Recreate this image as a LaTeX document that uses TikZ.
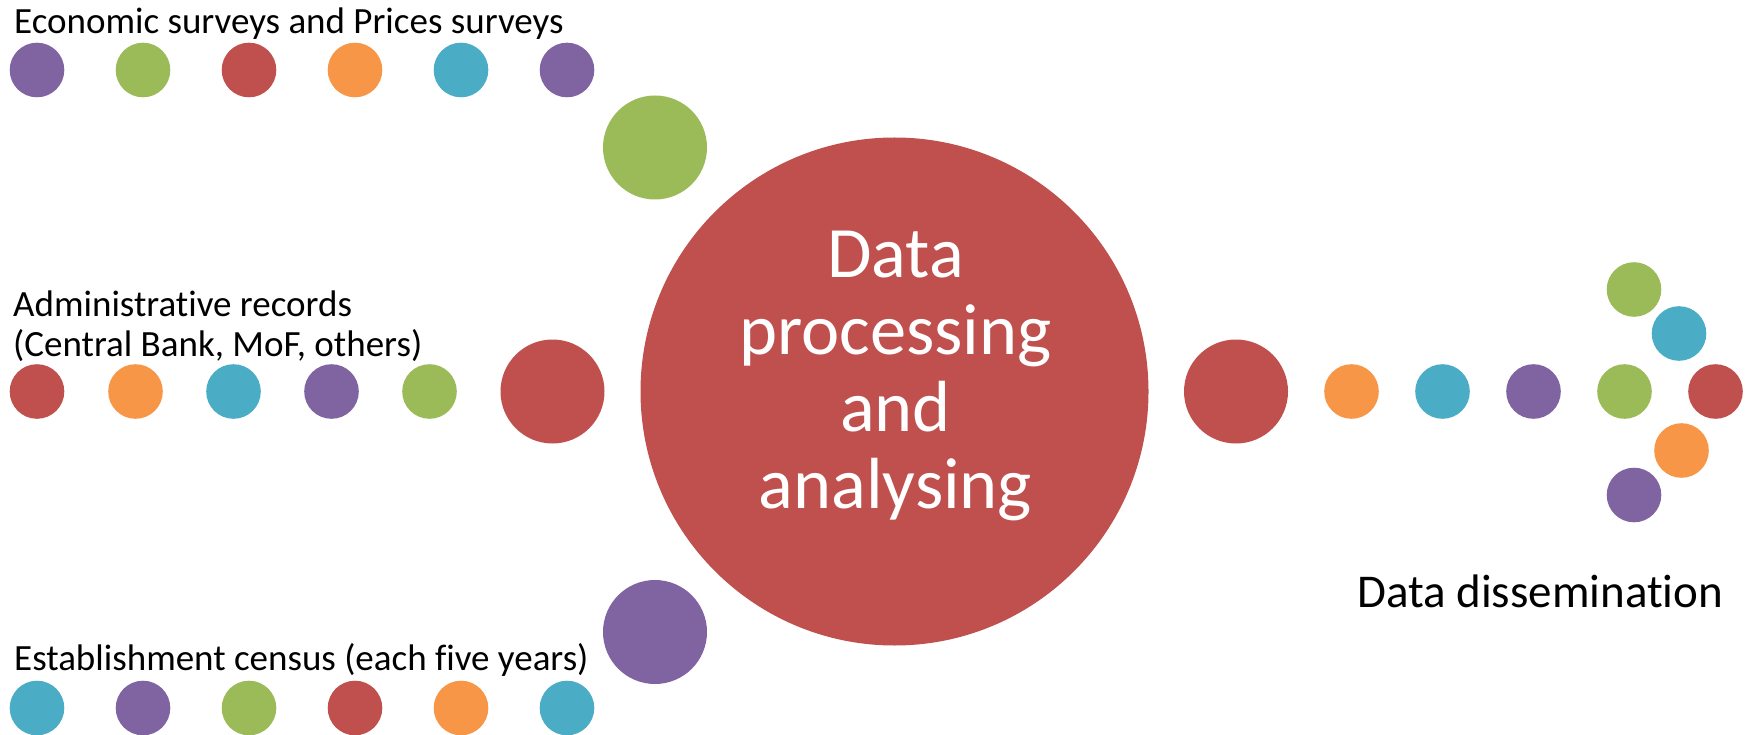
\documentclass[tikz,border=0pt]{standalone}
\usepackage{fontspec}
\setmainfont{Carlito}[Ligatures=NoCommon]
\definecolor{cpurple}{HTML}{8064A2}
\definecolor{cgreen}{HTML}{9BBB59}
\definecolor{cred}{HTML}{C0504D}
\definecolor{corange}{HTML}{F79646}
\definecolor{cblue}{HTML}{4BACC6}
\tikzset{
  dot/.style={circle,inner sep=0pt,minimum size=54.6pt,fill=#1},
  bigdot/.style={circle,inner sep=0pt,minimum size=104pt,fill=#1},
  hub/.style={circle,inner sep=0pt,minimum size=508pt,fill=cred},
  lbl/.style={inner sep=0pt,font=\fontsize{37}{40}\selectfont,text=black},
}
\begin{document}
\begin{tikzpicture}[x=1pt,y=-1pt]
\useasboundingbox (0,0) rectangle (1753,735);
% hub
\node[hub] (hub) at (894.5,391.5) {};
\node[inner sep=0pt,anchor=north,align=center,text=white,
      font=\fontsize{72.4}{77}\selectfont] (hubtext) at (895.5,230.5)
      {Data\\processing\\and\\analysing};
% top row
\node[lbl,anchor=base west] (t1) at (14,34) {Economic surveys and Prices surveys};
\node[dot=cpurple] (a1) at (37,70) {};
\node[dot=cgreen]  (a2) at (143,70) {};
\node[dot=cred]    (a3) at (249,70) {};
\node[dot=corange] (a4) at (355,70) {};
\node[dot=cblue]   (a5) at (461,70) {};
\node[dot=cpurple] (a6) at (567,70) {};
\node[bigdot=cgreen] (A) at (655,147.5) {};
% middle row
\node[lbl,anchor=base west] (t2a) at (13,316.7) {Administrative records};
\node[lbl,anchor=base west] (t2b) at (13,356.7) {(Central Bank, MoF, others)};
\node[dot=cred]    (b1) at (37,391.5) {};
\node[dot=corange] (b2) at (135.5,391.5) {};
\node[dot=cblue]   (b3) at (233.5,391.5) {};
\node[dot=cpurple] (b4) at (331.5,391.5) {};
\node[dot=cgreen]  (b5) at (429.5,391.5) {};
\node[bigdot=cred] (B) at (552.5,391.5) {};
% bottom row
\node[bigdot=cpurple] (C) at (655,632) {};
\node[lbl,anchor=base west] (t3) at (14,670) {Establishment census (each five years)};
\node[dot=cblue]   (c1) at (37,708) {};
\node[dot=cpurple] (c2) at (143,708) {};
\node[dot=cgreen]  (c3) at (249,708) {};
\node[dot=cred]    (c4) at (355,708) {};
\node[dot=corange] (c5) at (461,708) {};
\node[dot=cblue]   (c6) at (567,708) {};
% right side
\node[bigdot=cred] (D) at (1236,391.5) {};
\node[dot=corange] (d1) at (1351.5,391.5) {};
\node[dot=cblue]   (d2) at (1442.5,391.5) {};
\node[dot=cpurple] (d3) at (1533.5,391.5) {};
\node[dot=cgreen]  (d4) at (1624.5,391.5) {};
\node[dot=cred]    (d5) at (1715.5,391.5) {};
\node[dot=cgreen]  (e1) at (1634,289.5) {};
\node[dot=cblue]   (e2) at (1679,333.5) {};
\node[dot=corange] (e3) at (1681.5,450.5) {};
\node[dot=cpurple] (e4) at (1634,495) {};
\node[inner sep=0pt,anchor=base west,font=\fontsize{47}{54}\selectfont] (t4) at (1357,607.5) {Data dissemination};
\end{tikzpicture}
\end{document}
